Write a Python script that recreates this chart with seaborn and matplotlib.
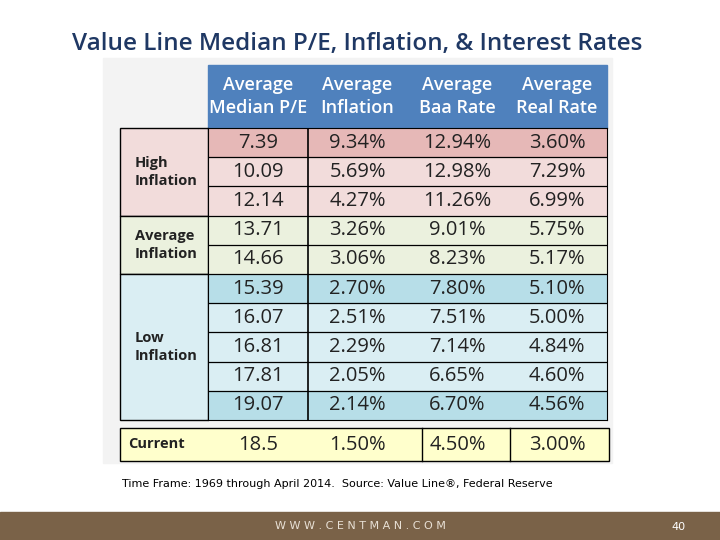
import numpy as np
import pandas as pd
import seaborn as sns
import matplotlib.pyplot as plt
from matplotlib.patches import Rectangle
from matplotlib.colors import ListedColormap

columns = ["Average\nMedian P/E", "Average\nInflation", "Average\nBaa Rate", "Average\nReal Rate"]
median_pe = ["7.39", "10.09", "12.14", "13.71", "14.66", "15.39", "16.07", "16.81", "17.81", "19.07"]
inflation = ["9.34%", "5.69%", "4.27%", "3.26%", "3.06%", "2.70%", "2.51%", "2.29%", "2.05%", "2.14%"]
baa_rate = ["12.94%", "12.98%", "11.26%", "9.01%", "8.23%", "7.80%", "7.51%", "7.14%", "6.65%", "6.70%"]
real_rate = ["3.60%", "7.29%", "6.99%", "5.75%", "5.17%", "5.10%", "5.00%", "4.84%", "4.60%", "4.56%"]
# colour group per row: 0 dark pink, 1 light pink, 2 green, 3 dark blue, 4 light blue
row_group = [0, 1, 1, 2, 2, 3, 4, 4, 4, 3]
groups = ["High\nInflation", "Average\nInflation", "Low\nInflation"]
group_rows = [(0, 3), (3, 5), (5, 10)]
group_colors = ["#F2DCDB", "#EBF1DE", "#DAEEF3"]
current = ["18.5", "1.50%", "4.50%", "3.00%"]

cell_colors = ["#E6B8B7", "#F2DCDB", "#EBF1DE", "#B7DEE8", "#DAEEF3"]
FONT = "Open Sans"
W, H = 720, 540

fig = plt.figure(figsize=(7.2, 5.4), dpi=100)
fig.patch.set_facecolor("white")
bg = fig.add_axes([0, 0, 1, 1])
bg.set_xlim(0, W)
bg.set_ylim(H, 0)
bg.axis("off")

# panel and footer
bg.add_patch(Rectangle((103, 58), 509, 405, color="#F3F3F3", zorder=0))
bg.add_patch(Rectangle((0, 512), W, 28, color="#7A6248", zorder=0))
bg.text(357, 44, "Value Line Median P/E, Inflation, & Interest Rates", ha="center", va="center",
        fontsize=17.5, fontweight="semibold", color="#1F3864", fontfamily=FONT)
bg.text(360, 526, "W W W . C E N T M A N . C O M", ha="center", va="center", fontsize=8,
        color="#E8E0D5", fontfamily="DejaVu Sans")
bg.text(678, 527, "40", ha="center", va="center", fontsize=8, color="white")
bg.text(122, 484, "Time Frame: 1969 through April 2014.  Source: Value Line\u00ae, Federal Reserve",
        ha="left", va="center", fontsize=8, fontfamily="Liberation Sans Narrow", color="black")

# header
x0, x1, yt, yh, yb = 208, 607, 65, 128, 420
bg.add_patch(Rectangle((x0, yt), x1 - x0, yh - yt, color="#4F81BD", zorder=1))
colw = (x1 - x0) / 4
for i, c in enumerate(columns):
    bg.text(x0 + colw * (i + 0.5), (yt + yh) / 2, c, ha="center", va="center", color="white",
            fontsize=13, fontweight="semibold", fontfamily=FONT, linespacing=1.35, zorder=2)

# group labels
rh = (yb - yh) / 10
for g, (a, b), col in zip(groups, group_rows, group_colors):
    ya, yb2 = yh + a * rh, yh + b * rh
    bg.add_patch(Rectangle((120, ya), x0 - 120, yb2 - ya, facecolor=col, edgecolor="black", lw=1, zorder=1))
    bg.text(135, (ya + yb2) / 2, g, ha="left", va="center", fontsize=10.5, fontweight="bold",
            fontfamily=FONT, linespacing=1.4, color="#222222", zorder=2)

# body via heatmap
body = pd.DataFrame({"pe": median_pe, "inf": inflation, "baa": baa_rate, "real": real_rate})
colors = np.repeat(np.array(row_group)[:, None], 4, axis=1)
ax = fig.add_axes([x0 / W, 1 - yb / H, (x1 - x0) / W, (yb - yh) / H])
sns.heatmap(colors, ax=ax, cmap=ListedColormap(cell_colors), vmin=-0.5, vmax=4.5, cbar=False,
            annot=body.values, fmt="", annot_kws={"fontsize": 14.5, "fontfamily": FONT, "color": "#222222"},
            linewidths=0, xticklabels=False, yticklabels=False)
ax.axvline(1, color="black", lw=1.2)
for r in range(1, 10):
    ax.axhline(r, color="black", lw=0.9)
for s in ax.spines.values():
    s.set_visible(True)
    s.set_color("black")

# current row
cy0, cy1 = 428, 461
bg.add_patch(Rectangle((120, cy0), 489, cy1 - cy0, facecolor="#FFFFCC", edgecolor="black", lw=1, zorder=1))
for xs in [422, 510]:
    bg.plot([xs, xs], [cy0, cy1], color="black", lw=1, zorder=2)
bg.text(128, (cy0 + cy1) / 2, "Current", ha="left", va="center", fontsize=10.5, fontweight="bold",
        fontfamily=FONT, color="#222222", zorder=2)
for i, v in enumerate(current):
    bg.text(x0 + colw * (i + 0.5), (cy0 + cy1) / 2, v, ha="center", va="center", fontsize=14.5,
            fontfamily=FONT, color="#222222", zorder=2)

fig.savefig("out.png", dpi=100)
